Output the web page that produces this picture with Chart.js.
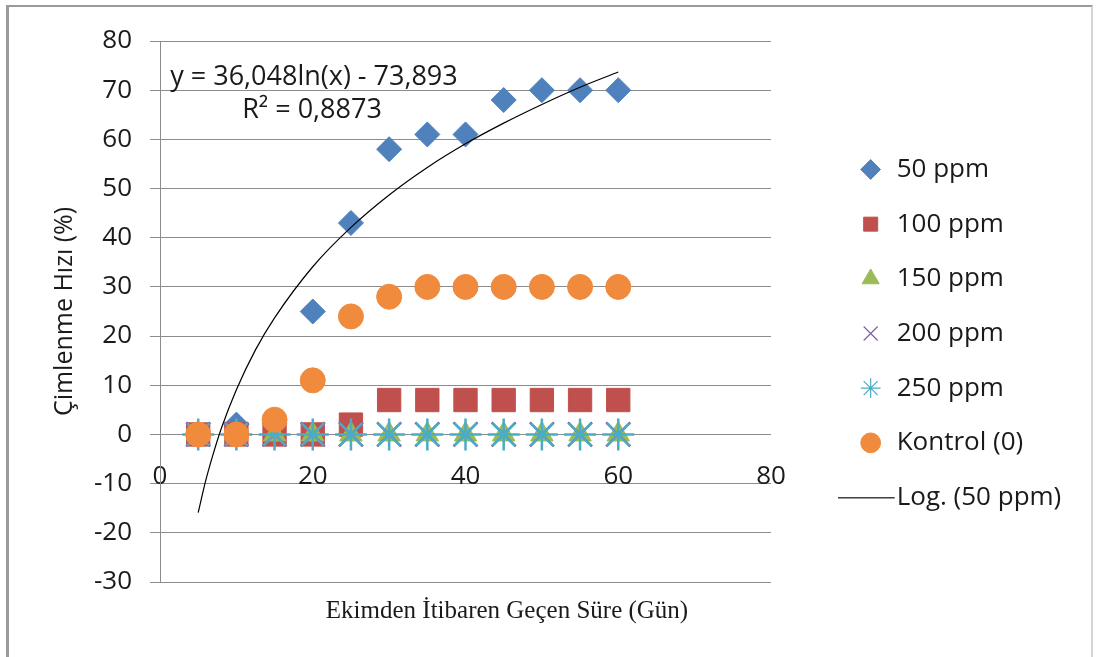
<!DOCTYPE html>
<html>
<head>
<meta charset="utf-8">
<script src="https://cdn.jsdelivr.net/npm/chart.js@4.4.1/dist/chart.umd.min.js"></script>
<style>
  html, body { margin: 0; padding: 0; background: #ffffff; width: 1099px; height: 657px; overflow: hidden; }
  #frame { position: absolute; left: 6px; top: 5px; width: 1087px; height: 680px; box-sizing: border-box;
           border: 2px solid #9a9a9a; border-left-width: 3px; border-right-color: #d4d4d4; }
  #wrap { position: absolute; left: 0; top: 0; width: 1099px; height: 657px; }
</style>
</head>
<body>
<div id="frame"></div>
<div id="wrap"><canvas id="c" width="1099" height="657"></canvas></div>
<script>
// ---- data ----
const days      = [5, 10, 15, 20, 25, 30, 35, 40, 45, 50, 55, 60];
const ppm50     = [0, 2, 0, 25, 43, 58, 61, 61, 68, 70, 70, 70];
const ppm100    = [0, 0, 0, 0, 2, 7, 7, 7, 7, 7, 7, 7];
const ppm150    = [0, 0, 0, 0, 0, 0, 0, 0, 0, 0, 0, 0];
const ppm200    = [0, 0, 0, 0, 0, 0, 0, 0, 0, 0, 0, 0];
const ppm250    = [0, 0, 0, 0, 0, 0, 0, 0, 0, 0, 0, 0];
const kontrol   = [0, 0, 3, 11, 24, 28, 30, 30, 30, 30, 30, 30];
// trendline (Log. 50 ppm)
const trendX    = [5, 6, 7, 8, 10, 12.5, 15, 20, 25, 30, 35, 40, 45, 50, 55, 60];
const trendY    = [-15.9, -9.3, -3.8, 1.1, 9.1, 17.2, 23.7, 34.1, 42.1, 48.7, 54.3, 59.1, 63.3, 67.1, 70.6, 73.7];
const seriesNames = ['50 ppm', '100 ppm', '150 ppm', '200 ppm', '250 ppm', 'Kontrol (0)', 'Log. (50 ppm)'];
const eqLines   = ['y = 36,048ln(x) - 73,893', 'R\u00B2 = 0,8873'];
const yTitle    = '\u00C7imlenme H\u0131z\u0131 (%)';
const xTitle    = 'Ekimden \u0130tibaren Ge\u00E7en S\u00FCre (G\u00FCn)';
const xMin = 0, xMax = 80, xStep = 20;
const yMin = -30, yMax = 80, yStep = 10;

// ---- styling / layout constants ----
const TXT = '#1a1a1a';
const GRID = '#8c8c8c';
const SANS = '"Open Sans", "Noto Sans", sans-serif';
const LEGEND_WIDTH = 243;
const LEGEND_GAP = 58;

const pts = (xs, ys) => xs.map((x, i) => ({ x: x, y: ys[i] }));

// legend glyph for the trendline (line segment ending just before the text)
const lineGlyph = document.createElement('canvas');
lineGlyph.width = 66; lineGlyph.height = 2;
(function () { const g = lineGlyph.getContext('2d'); g.fillStyle = '#000'; g.fillRect(0, 0, 57, 1.4); })();

const layoutTweaks = {
  id: 'layoutTweaks',
  beforeLayout(chart) {
    const lg = chart.legend;
    if (lg && !lg.__patched) {
      const fit = lg.fit.bind(lg);
      lg.fit = function () { fit(); this.width = LEGEND_WIDTH; };
      lg.__patched = true;
    }
  },
  afterLayout(chart) {
    const lg = chart.legend;
    if (!lg) return;
    const dx = chart.chartArea.right + LEGEND_GAP - lg.left;
    lg.left += dx; lg.right += dx;
  }
};

const eqLabel = {
  id: 'eqLabel',
  afterDatasetsDraw(chart) {
    const { ctx, chartArea } = chart;
    ctx.save();
    ctx.font = '27px ' + SANS;
    ctx.fillStyle = TXT;
    ctx.textAlign = 'center';
    ctx.textBaseline = 'middle';
    const cx = chartArea.left + 154;
    ctx.fillText(eqLines[0], cx, chartArea.top + 36);
    ctx.fillText(eqLines[1], cx - 2, chartArea.top + 69);
    ctx.restore();
  }
};

const filled = (color, style, r, order, data, label) => ({
  label: label, data: data, order: order,
  pointStyle: style, pointRadius: r, pointHoverRadius: r,
  backgroundColor: color, borderColor: color, pointBorderWidth: 1, borderWidth: 1
});
const stroked = (color, style, r, order, data, label) => ({
  label: label, data: data, order: order,
  pointStyle: style, pointRadius: r, pointHoverRadius: r,
  backgroundColor: 'rgba(0,0,0,0)', borderColor: color, pointBorderWidth: 2.5, borderWidth: 2.5
});

const datasets = [
  filled('#4F81BD', 'rectRot', 12.5, 6, pts(days, ppm50), seriesNames[0]),
  filled('#C0504D', 'rect', 16.5, 5, pts(days, ppm100), seriesNames[1]),
  filled('#9BBB59', 'triangle', 13, 4, pts(days, ppm150), seriesNames[2]),
  stroked('#8064A2', 'crossRot', 17, 3, pts(days, ppm200), seriesNames[3]),
  stroked('#4BACC6', 'star', 16, 2, pts(days, ppm250), seriesNames[4]),
  filled('#F08A3C', 'circle', 12.5, 1, pts(days, kontrol), seriesNames[5]),
  {
    label: seriesNames[6], data: pts(trendX, trendY), order: 0,
    showLine: true, borderColor: '#000000', backgroundColor: '#000000', borderWidth: 1.2,
    pointRadius: 0, pointHoverRadius: 0, pointStyle: lineGlyph,
    cubicInterpolationMode: 'monotone'
  }
];

new Chart(document.getElementById('c'), {
  type: 'scatter',
  data: { datasets: datasets },
  plugins: [layoutTweaks, eqLabel],
  options: {
    responsive: false,
    animation: false,
    devicePixelRatio: 1,
    events: [],
    layout: { padding: { left: 0, top: 41, right: 85, bottom: 31 } },
    scales: {
      x: {
        type: 'linear',
        position: { y: 0 },
        min: xMin, max: xMax,
        afterFit(s) { s.height = 0; },
        grid: { display: false },
        border: { display: false },
        ticks: { stepSize: xStep, padding: 19, color: TXT, font: { family: SANS, size: 26 } }
      },
      y: {
        type: 'linear',
        position: 'left',
        min: yMin, max: yMax,
        afterFit(s) { s.width = 160; },
        grid: { color: GRID, lineWidth: 1, tickLength: 10, drawTicks: true },
        border: { display: true, color: GRID, width: 1 },
        ticks: { stepSize: yStep, padding: 18, color: TXT, font: { family: SANS, size: 26 } },
        title: { display: true, text: yTitle, color: TXT, font: { family: SANS, size: 25 }, padding: { top: 50, bottom: 0 } }
      }
    },
    plugins: {
      tooltip: { enabled: false },
      title: {
        display: true, position: 'bottom', text: xTitle, color: TXT,
        font: { family: '"Liberation Serif", "DejaVu Serif", serif', size: 25, weight: 'normal' },
        padding: { top: 14, bottom: 0 }
      },
      legend: {
        display: true, position: 'right', align: 'center',
        labels: {
          usePointStyle: true, boxWidth: 26, boxHeight: 14, padding: 28.67,
          color: TXT, font: { family: SANS, size: 26 },
          sort: (a, b) => a.datasetIndex - b.datasetIndex,
          generateLabels(chart) {
            const items = Chart.defaults.plugins.legend.labels.generateLabels(chart);
            items.forEach(it => {
              if (it.pointStyle === 'crossRot' || it.pointStyle === 'star') it.lineWidth = 1.2;
            });
            return items;
          }
        }
      }
    }
  }
});
</script>
</body>
</html>
